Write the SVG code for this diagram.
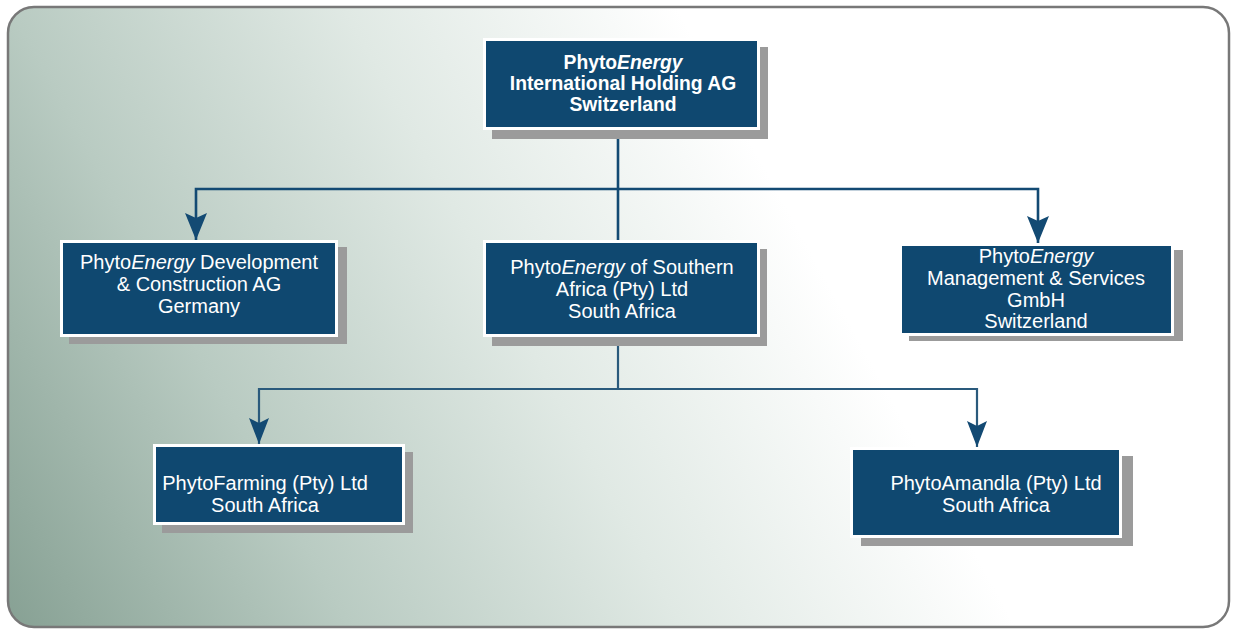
<svg xmlns="http://www.w3.org/2000/svg" width="1233" height="630" viewBox="0 0 1233 630">
  <defs>
    <linearGradient id="bg" gradientUnits="userSpaceOnUse" x1="0" y1="620" x2="950" y2="100">
      <stop offset="0" stop-color="#86a093"/>
      <stop offset="0.28" stop-color="#b9cbc2"/>
      <stop offset="0.55" stop-color="#e0e9e4"/>
      <stop offset="0.82" stop-color="#ffffff"/>
      <stop offset="1" stop-color="#ffffff"/>
    </linearGradient>
    <marker id="arrow" markerUnits="userSpaceOnUse" viewBox="-28 -12 29 24" refX="0" refY="0" markerWidth="29" markerHeight="24" orient="auto">
      <path d="M0,0 L-27,-11 L-22,0 L-27,11 Z" fill="#134a73"/>
    </marker>
    <marker id="arrow-sm" markerUnits="userSpaceOnUse" viewBox="-27 -11 28 22" refX="0" refY="0" markerWidth="28" markerHeight="22" orient="auto">
      <path d="M0,0 L-26,-10 L-21,0 L-26,10 Z" fill="#134a73"/>
    </marker>
  </defs>
  <style>
    .shadow { fill: #9b9b9b; }
    .frame { fill: #ffffff; }
    .body { fill: #0f4870; }
    .label { font-family: "Liberation Sans", Arial, sans-serif; font-size: 20px; fill: #ffffff; text-anchor: middle; }
    .bold { font-weight: bold; font-size: 19.3px; }
    .link { fill: none; stroke: #134a73; stroke-width: 2.6; }
    .link-lower { fill: none; stroke: #2a5a7c; stroke-width: 2.2; }
  </style>

  <!-- background panel -->
  <rect x="8" y="7" width="1221" height="620" rx="26" ry="26" fill="url(#bg)" stroke="#787878" stroke-width="2.5"/>

  <!-- connectors -->
  <g id="connectors">
    <path class="link" d="M618,130 V240"/>
    <path class="link" d="M618,189 H196 V240" marker-end="url(#arrow)"/>
    <path class="link" d="M618,189 H1038 V243" marker-end="url(#arrow)"/>
    <path class="link-lower" d="M618,337 V389"/>
    <path class="link-lower" d="M618,389 H259 V444" marker-end="url(#arrow-sm)"/>
    <path class="link-lower" d="M618,389 H977 V447" marker-end="url(#arrow-sm)"/>
  </g>

  <!-- holding -->
  <g id="node-holding">
    <rect class="shadow" x="492" y="47" width="276" height="92"/>
    <rect class="frame" x="483" y="38" width="277" height="92"/>
    <rect class="body" x="486" y="41" width="271" height="86"/>
    <text class="label bold" x="623" y="69">Phyto<tspan font-style="italic">Energy</tspan></text>
    <text class="label bold" x="623" y="90">International Holding AG</text>
    <text class="label bold" x="623" y="111">Switzerland</text>
  </g>

  <!-- development & construction -->
  <g id="node-germany">
    <rect class="shadow" x="69" y="247" width="278" height="97"/>
    <rect class="frame" x="60" y="240" width="278" height="97"/>
    <rect class="body" x="63" y="243" width="272" height="91"/>
    <text class="label" x="199" y="269">Phyto<tspan font-style="italic">Energy</tspan> Development</text>
    <text class="label" x="199" y="291">&amp; Construction AG</text>
    <text class="label" x="199" y="313">Germany</text>
  </g>

  <!-- southern africa -->
  <g id="node-southern-africa">
    <rect class="shadow" x="492" y="249" width="275" height="97"/>
    <rect class="frame" x="483" y="240" width="277" height="97"/>
    <rect class="body" x="486" y="243" width="271" height="91"/>
    <text class="label" x="622" y="274">Phyto<tspan font-style="italic">Energy</tspan> of Southern</text>
    <text class="label" x="622" y="296">Africa (Pty) Ltd</text>
    <text class="label" x="622" y="318">South Africa</text>
  </g>

  <!-- management & services -->
  <g id="node-management">
    <rect class="shadow" x="909" y="250" width="274" height="91"/>
    <rect class="frame" x="899" y="243" width="275" height="93"/>
    <rect class="body" x="902" y="246" width="269" height="87"/>
    <text class="label" x="1036" y="263">Phyto<tspan font-style="italic">Energy</tspan></text>
    <text class="label" x="1036" y="285">Management &amp; Services</text>
    <text class="label" x="1036" y="307">GmbH</text>
    <text class="label" x="1036" y="328">Switzerland</text>
  </g>

  <!-- farming -->
  <g id="node-farming">
    <rect class="shadow" x="162" y="452" width="251" height="81"/>
    <rect class="frame" x="153" y="444" width="252" height="81"/>
    <rect class="body" x="156" y="447" width="246" height="75"/>
    <text class="label" x="265" y="490">PhytoFarming (Pty) Ltd</text>
    <text class="label" x="265" y="512">South Africa</text>
  </g>

  <!-- amandla -->
  <g id="node-amandla">
    <rect class="shadow" x="861" y="456" width="272" height="90"/>
    <rect class="frame" x="850" y="447" width="272" height="91"/>
    <rect class="body" x="853" y="450" width="266" height="85"/>
    <text class="label" x="996" y="490">PhytoAmandla (Pty) Ltd</text>
    <text class="label" x="996" y="512">South Africa</text>
  </g>
</svg>
